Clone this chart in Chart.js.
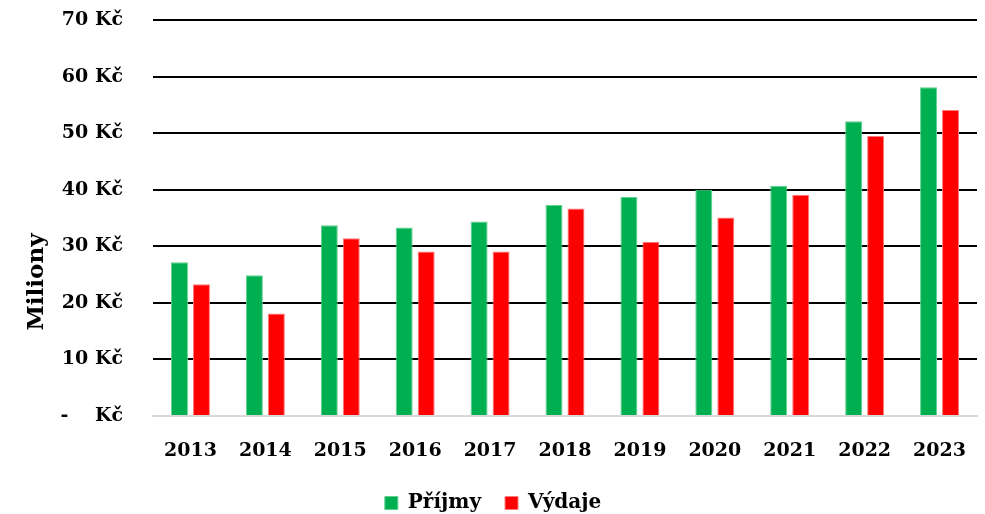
<!DOCTYPE html>
<html>
<head>
<meta charset="utf-8">
<script src="https://cdn.jsdelivr.net/npm/chart.js@4"></script>
<style>
  html, body { margin: 0; padding: 0; background: #fff; }
  #wrap { width: 985px; height: 514px; }
</style>
</head>
<body>
<div id="wrap"><canvas id="chart"></canvas></div>
<script>
const years = ['2013', '2014', '2015', '2016', '2017', '2018', '2019', '2020', '2021', '2022', '2023'];
const prijmy = [27.2, 24.9, 33.7, 33.3, 34.4, 37.3, 38.7, 40.0, 40.7, 52.1, 58.1];
const vydaje = [23.3, 18.1, 31.4, 29.1, 29.1, 36.7, 30.8, 35.1, 39.1, 49.5, 54.1];

const fontFamily = '"DejaVu Serif", serif';

// trailing spaces push the rotated title down, like in the original
const yTitle = 'Miliony' + ' '.repeat(16);

const ctx = document.getElementById('chart').getContext('2d');
new Chart(ctx, {
    type: 'bar',
    data: {
        labels: years,
        datasets: [
            {
                label: 'Příjmy',
                data: prijmy,
                backgroundColor: '#00B050',
                borderColor: '#5fd08f',
                borderWidth: 1,
                barPercentage: 0.773,
                categoryPercentage: 0.587,
            },
            {
                label: 'Výdaje',
                data: vydaje,
                backgroundColor: '#FF0000',
                borderColor: '#ff7a7a',
                borderWidth: 1,
                barPercentage: 0.773,
                categoryPercentage: 0.587,
            },
        ],
    },
    options: {
        responsive: true,
        maintainAspectRatio: false,
        animation: false,
        layout: {
            padding: { top: 20, right: 8, bottom: -9, left: 23 },
        },
        plugins: {
            legend: {
                position: 'bottom',
                labels: {
                    boxWidth: 13,
                    boxHeight: 13,
                    padding: 24,
                    color: '#000',
                    font: { family: fontFamily, size: 20, weight: 'bold' },
                    // pad the last label a bit so the legend sits slightly left of centre
                    generateLabels: (chart) => {
                        const items = Chart.defaults.plugins.legend.labels.generateLabels(chart);
                        items[items.length - 1].text += '  ';
                        return items;
                    },
                },
            },
            tooltip: { enabled: false },
        },
        scales: {
            x: {
                grid: {
                    display: true,
                    drawOnChartArea: false,
                    drawTicks: true,
                    tickLength: 21,
                    color: 'transparent',
                    tickColor: 'transparent',
                },
                border: { display: true, color: '#d9d9d9', width: 2 },
                ticks: {
                    color: '#000',
                    padding: 3,
                    font: { family: fontFamily, size: 19, weight: 'bold' },
                },
                afterFit: (s) => { s.height = 53; },
            },
            y: {
                min: 0,
                max: 70,
                grid: {
                    color: (c) => (c.tick && c.tick.value === 0 ? '#d9d9d9' : '#000'),
                    lineWidth: 2,
                    drawTicks: true,
                    tickLength: 27,
                    tickColor: 'transparent',
                },
                border: { display: false },
                ticks: {
                    stepSize: 10,
                    color: '#000',
                    padding: 3,
                    font: { family: fontFamily, size: 19, weight: 'bold' },
                    callback: (v) => (v === 0 ? '-    Kč' : v + ' Kč'),
                },
                title: {
                    display: true,
                    text: yTitle,
                    color: '#000',
                    padding: { top: 0, bottom: 10 },
                    font: { family: fontFamily, size: 23, weight: 'bold' },
                },
                afterFit: (s) => { s.width = 130; },
            },
        },
    },
});
</script>
</body>
</html>
